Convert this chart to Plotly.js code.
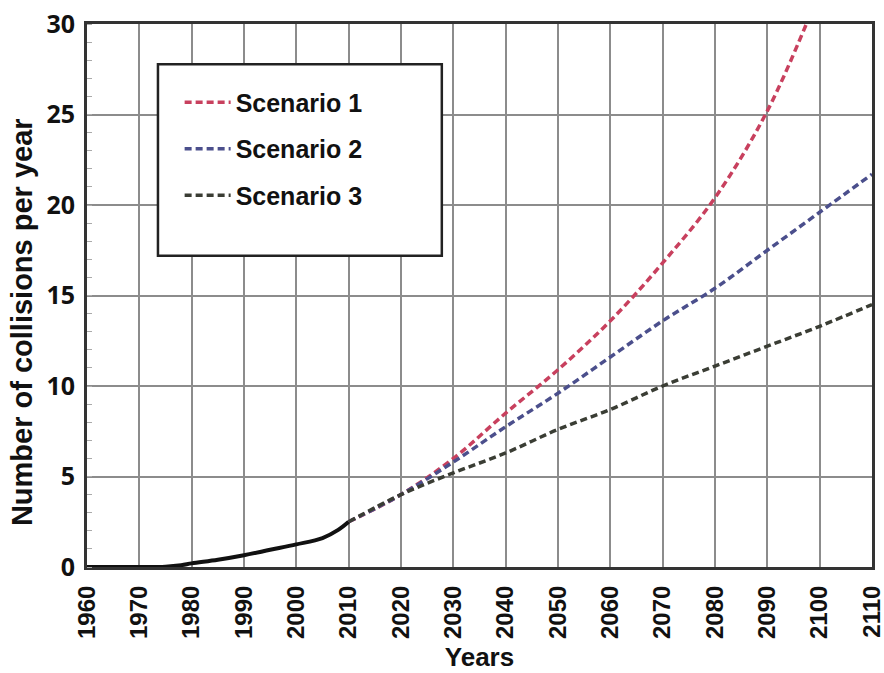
<!DOCTYPE html>
<html>
<head>
<meta charset="utf-8">
<script src="https://cdn.plot.ly/plotly-3.0.1.min.js"></script>
<style>html,body{margin:0;padding:0;background:#fff;}#chart{width:884px;height:673px;}</style>
</head>
<body>
<div id="chart"></div>
<script>
// Historical data
const histYears = [1960, 1965, 1970, 1975, 1978, 1980, 1985, 1990, 1995, 2000, 2005, 2008, 2010];
const histValues = [0.0, 0.0, 0.0, 0.02, 0.1, 0.2, 0.4, 0.65, 0.95, 1.25, 1.6, 2.05, 2.5];

// Projections
const projYears = [2010, 2020, 2030, 2040, 2050, 2060, 2070, 2080, 2090, 2100, 2110];
const scenario1 = [2.5, 4.0, 6.0, 8.5, 10.9, 13.6, 16.8, 20.4, 25.2, 31.8, null];
const scenario2 = [2.5, 4.0, 5.8, 7.75, 9.6, 11.6, 13.6, 15.4, 17.5, 19.6, 21.7];
const scenario3 = [2.5, 4.0, 5.2, 6.3, 7.6, 8.7, 10.0, 11.1, 12.2, 13.3, 14.5];
const seriesNames = ["Scenario 1", "Scenario 2", "Scenario 3"];

const xTicks = [1960,1970,1980,1990,2000,2010,2020,2030,2040,2050,2060,2070,2080,2090,2100,2110];
const yTicks = [0,5,10,15,20,25,30];
const xTitle = "Years";
const yTitle = "Number of collisions per year";

const dashPat = "7px,4px";
const traces = [
  {x: histYears, y: histValues, mode: "lines", line: {color: "#111", width: 4, shape: "spline"}, showlegend: false, hoverinfo: "skip"},
  {x: projYears, y: scenario1, name: seriesNames[0], mode: "lines", line: {color: "#c8405e", width: 3.5, dash: dashPat, shape: "spline"}, legendgroup: "a"},
  {x: projYears, y: scenario2, name: seriesNames[1], mode: "lines", line: {color: "#4b4f8c", width: 3.5, dash: dashPat, shape: "spline"}, legendgroup: "b"},
  {x: projYears, y: scenario3, name: seriesNames[2], mode: "lines", line: {color: "#3a3d34", width: 3.5, dash: dashPat, shape: "spline"}, legendgroup: "c"}
];

const layout = {
  width: 884, height: 673,
  margin: {l: 87, r: 12, t: 24, b: 106},
  paper_bgcolor: "#fff", plot_bgcolor: "#fff",
  showlegend: true,
  legend: {
    x: 0.118, y: 0.898, xanchor: "left", yanchor: "top",
    bgcolor: "rgba(0,0,0,0)", borderwidth: 0,
    font: {family: "Liberation Sans, Arial, sans-serif", size: 25, color: "#111", weight: "bold"},
    itemwidth: 46, tracegroupgap: 11, traceorder: "grouped"
  },
  shapes: [
    {type: "rect", xref: "paper", yref: "paper", x0: 0.0904, x1: 0.452, y0: 0.573, y1: 0.926,
     line: {color: "#222", width: 2.5}, fillcolor: "rgba(255,255,255,1)", layer: "above"}
  ],
  annotations: [
    {text: yTitle, textangle: -90, xref: "paper", yref: "paper", x: -0.0828, y: 0.451,
     xanchor: "center", yanchor: "middle", showarrow: false,
     font: {family: "Liberation Sans, Arial, sans-serif", size: 29, color: "#111", weight: "bold"}}
  ],
  xaxis: {
    range: [1960, 2110], tickvals: xTicks, ticktext: xTicks.map(String),
    tickangle: -90, showgrid: true, gridcolor: "#8c8c8c", gridwidth: 2,
    showline: true, mirror: true, linecolor: "#333", linewidth: 3,
    ticks: "", zeroline: false, ticklabeloverflow: "allow", ticklabelstandoff: 6,
    tickfont: {family: "Liberation Sans, Arial, sans-serif", size: 24, color: "#111", weight: "bold"},
    title: {text: xTitle, font: {family: "Liberation Sans, Arial, sans-serif", size: 26, color: "#111", weight: "bold"}, standoff: 10}
  },
  yaxis: {
    range: [0, 30], tickvals: yTicks, ticktext: yTicks.map(String),
    showgrid: true, gridcolor: "#8c8c8c", gridwidth: 2,
    showline: true, mirror: true, linecolor: "#333", linewidth: 3,
    ticks: "", zeroline: false, ticklabelstandoff: 4,
    minor: {ticks: "inside", dtick: 1, ticklen: 5, tickcolor: "#aaa", tickwidth: 1, showgrid: false},
    tickfont: {family: "Open Sans, sans-serif", size: 25, color: "#111", weight: "bold"}
  }
};

Plotly.newPlot("chart", traces, layout, {displayModeBar: false, staticPlot: true});
</script>
</body>
</html>
